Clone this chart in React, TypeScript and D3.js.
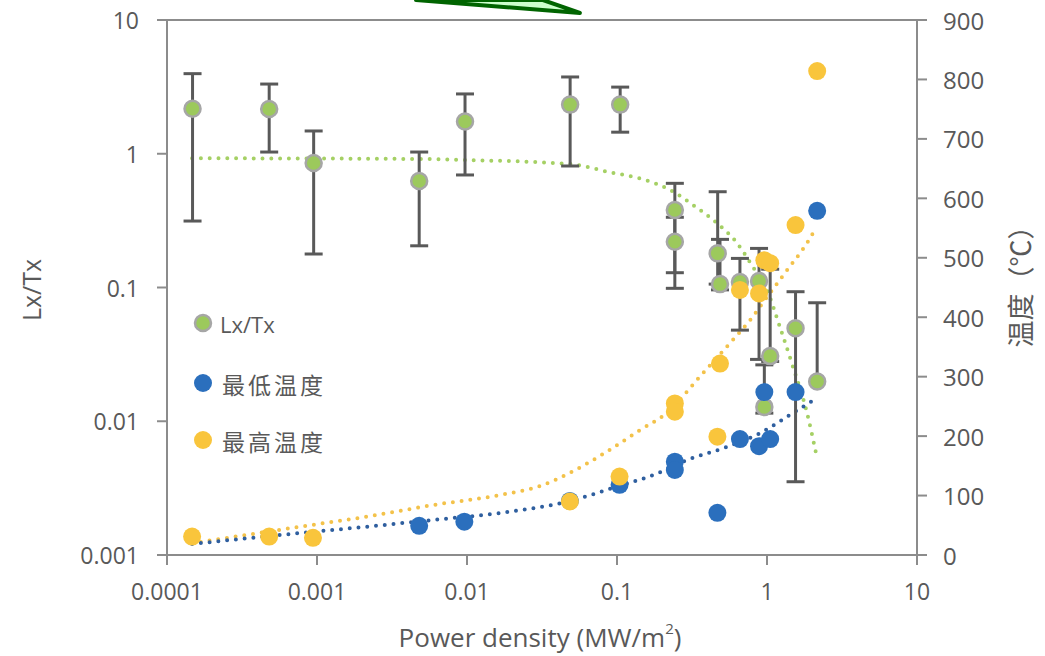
import React from "react";
import * as d3 from "d3";

// Lx/Tx ratio with error bars (left log axis)
const lxX = [0.000148, 0.00048, 0.00095, 0.0048, 0.0097, 0.0487, 0.105, 0.243, 0.243, 0.469, 0.486, 0.66, 0.885, 1.05, 0.96, 1.55, 2.16];
const lxY = [2.17, 2.16, 0.853, 0.625, 1.74, 2.33, 2.33, 0.38, 0.22, 0.18, 0.106, 0.11, 0.112, 0.0307, 0.0128, 0.0496, 0.0198];
const lxHi = [3.97, 3.32, 1.48, 1.03, 2.8, 3.75, 3.15, 0.601, 0.335, 0.52, 0.229, 0.165, 0.196, 0.137, 0.0264, 0.093, 0.0769];
const lxLo: (number | null)[] = [0.314, 1.03, 0.178, 0.205, 0.694, 0.81, 1.45, 0.129, 0.0986, 0.106, 0.096, 0.048, 0.029, 0.028, 0.0115, 0.00353, null];

// minimum temperature (right axis, °C)
const minX = [0.0048, 0.0096, 0.0485, 0.104, 0.243, 0.243, 0.467, 0.66, 0.885, 1.05, 0.96, 1.55, 2.16];
const minT = [49, 56, 91, 118, 157, 143, 71, 195, 183, 195, 274, 274, 579];

// maximum temperature
const maxX = [0.000147, 0.00048, 0.00094, 0.0485, 0.104, 0.243, 0.243, 0.467, 0.486, 0.66, 0.885, 0.96, 1.05, 1.55, 2.16];
const maxT = [31, 31, 29, 90, 132, 255, 241, 199, 322, 446, 440, 496, 491, 555, 814];

// trend lines
const lxTrendX = [0.000147, 0.0048, 0.0097, 0.0485, 0.0898, 0.149, 0.226, 0.321, 0.464, 0.631, 0.807, 1.0, 1.22, 1.49, 1.85, 2.12];
const lxTrendY = [0.925, 0.914, 0.898, 0.838, 0.727, 0.644, 0.536, 0.414, 0.303, 0.215, 0.142, 0.0957, 0.0506, 0.0255, 0.0115, 0.0058];
const maxTrendX = [0.000147, 0.00077, 0.00214, 0.00593, 0.0166, 0.0307, 0.0509, 0.0858, 0.142, 0.215, 0.357, 0.593, 0.77, 1.0, 1.36, 1.85, 2.12];
const maxTrendT = [19.7, 47.6, 64.4, 84, 101, 116, 141, 174, 210, 239, 300, 362, 395, 434, 479, 525, 550];
const minTrendX = [0.000147, 0.00077, 0.00214, 0.00593, 0.0166, 0.0464, 0.1, 0.185, 0.275, 0.541, 0.898, 1.49, 2.15];
const minTrendT = [18.5, 37, 47.6, 59, 70.7, 89.7, 115, 137, 157, 182, 205, 239, 264];

const xTicks = [0.0001, 0.001, 0.01, 0.1, 1, 10];
const xTickLabels = ["0.0001", "0.001", "0.01", "0.1", "1", "10"];
const yTicks = [0.001, 0.01, 0.1, 1, 10];
const yTickLabels = ["0.001", "0.01", "0.1", "1", "10"];
const tTicks = [0, 100, 200, 300, 400, 500, 600, 700, 800, 900];

const legendLabels = ["Lx/Tx", "最低温度", "最高温度"];

// cut-off arrow at the top (data space: power density, Lx/Tx)
const arrowX = [0.00457, 0.0566, 0.0321];
const arrowY = [14.1, 11.3, 14.1];

const W = 1045, H = 656;
const m = { left: 167, right: 917, top: 20, bottom: 555 };

const GREEN = "#9cc95c", GREEN_STROKE = "#a6a6a6";
const BLUE = "#2b6fbd", YELLOW = "#f9c53c";
const AXIS = "#8c8c8c", TEXT = "#595959";
const NUM_FONT = "'Open Sans', 'DejaVu Sans', sans-serif";
const CJK_FONT = "'Noto Sans CJK SC', 'Noto Sans', sans-serif";

export default function App() {
  const x = d3.scaleLog().domain([0.0001, 10]).range([m.left, m.right]);
  const y = d3.scaleLog().domain([0.001, 10]).range([m.bottom, m.top]);
  const t = d3.scaleLinear().domain([0, 900]).range([m.bottom, m.top]);

  const lineLx = d3.line<number>().x((_, i) => x(lxTrendX[i])).y((d) => y(d)).curve(d3.curveMonotoneX);
  const lineMax = d3.line<number>().x((_, i) => x(maxTrendX[i])).y((d) => t(d)).curve(d3.curveMonotoneX);
  const lineMin = d3.line<number>().x((_, i) => x(minTrendX[i])).y((d) => t(d)).curve(d3.curveMonotoneX);

  const arrowPath = d3.line<number>().x((_, i) => x(arrowX[i])).y((d) => y(d))(arrowY) + "Z";

  const r = 9;
  const cap = 9;
  const dotted = { fill: "none", strokeWidth: 4, strokeDasharray: "0 8.8", strokeLinecap: "round" as const };

  return (
    <svg width={W} height={H} style={{ position: "absolute", left: 0, top: 0, background: "#fff" }}>
      <path d={arrowPath} fill="#ccffcc" stroke="#006400" strokeWidth={4} strokeLinejoin="round" />

      {/* axes */}
      <g stroke={AXIS} strokeWidth={2} fill="none">
        <line x1={m.left} x2={m.left} y1={m.top} y2={m.bottom} />
        <line x1={m.right} x2={m.right} y1={m.top} y2={m.bottom} />
        <line x1={m.left - 10} x2={m.right + 10} y1={m.bottom} y2={m.bottom} />
        <line x1={m.left - 10} x2={m.right + 10} y1={m.top} y2={m.top} />
        {yTicks.map((v) => (
          <line key={"yl" + v} x1={m.left - 10} x2={m.left} y1={y(v)} y2={y(v)} />
        ))}
        {tTicks.map((v) => (
          <line key={"tr" + v} x1={m.right} x2={m.right + 10} y1={t(v)} y2={t(v)} />
        ))}
        {xTicks.map((v) => (
          <line key={"xb" + v} x1={x(v)} x2={x(v)} y1={m.bottom} y2={m.bottom + 10} />
        ))}
      </g>

      <g fill={TEXT} fontFamily={NUM_FONT} fontSize={23}>
        {yTicks.map((v, i) => (
          <text key={"ylt" + v} x={m.left - 28} y={y(v)} textAnchor="end" dominantBaseline="central">
            {yTickLabels[i]}
          </text>
        ))}
        {tTicks.map((v) => (
          <text key={"trt" + v} x={m.right + 26} y={t(v)} textAnchor="start" dominantBaseline="central" fontSize={24}>
            {v}
          </text>
        ))}
        {xTicks.map((v, i) => (
          <text key={"xbt" + v} x={x(v)} y={m.bottom + 36} textAnchor="middle" dominantBaseline="central" fontSize={23}>
            {xTickLabels[i]}
          </text>
        ))}
        <text x={540} y={637} textAnchor="middle" dominantBaseline="central" fontSize={26}>
          Power density (MW/m<tspan dy={-9} fontSize={15}>2</tspan><tspan dy={9}>)</tspan>
        </text>
        <text transform="translate(31,290) rotate(-90)" textAnchor="middle" dominantBaseline="central" fontSize={25}>
          Lx/Tx
        </text>
        <text transform="translate(1019,280) rotate(-90)" textAnchor="middle" dominantBaseline="central" fontSize={27} fontFamily={CJK_FONT}>
          温度（℃）
        </text>
      </g>

      {/* trend lines */}
      <path d={lineLx(lxTrendY) || ""} stroke="#a5d064" {...dotted} />
      <path d={lineMax(maxTrendT) || ""} stroke="#f3c24a" {...dotted} />
      <path d={lineMin(minTrendT) || ""} stroke="#2f5f9f" {...dotted} />

      {/* error bars */}
      <g stroke="#595959" strokeWidth={3}>
        {lxX.map((xv, i) => {
          const cx = x(xv);
          const top = y(lxHi[i]);
          const lo = lxLo[i];
          const bot = lo === null ? y(lxY[i]) : y(lo);
          return (
            <g key={"eb" + i}>
              <line x1={cx} x2={cx} y1={top} y2={bot} />
              <line x1={cx - cap} x2={cx + cap} y1={top} y2={top} />
              {lo !== null && <line x1={cx - cap} x2={cx + cap} y1={bot} y2={bot} />}
            </g>
          );
        })}
      </g>

      {/* points */}
      {lxX.map((xv, i) => (
        <circle key={"g" + i} cx={x(xv)} cy={y(lxY[i])} r={r - 1} fill={GREEN} stroke={GREEN_STROKE} strokeWidth={2.5} />
      ))}
      {minX.map((xv, i) => (
        <circle key={"b" + i} cx={x(xv)} cy={t(minT[i])} r={r} fill={BLUE} />
      ))}
      {maxX.map((xv, i) => (
        <circle key={"y" + i} cx={x(xv)} cy={t(maxT[i])} r={r} fill={YELLOW} />
      ))}

      {/* legend */}
      <g>
        <circle cx={203} cy={323} r={r - 1} fill={GREEN} stroke={GREEN_STROKE} strokeWidth={2.5} />
        <text x={220} y={324} fill={TEXT} fontFamily={NUM_FONT} fontSize={22} dominantBaseline="central">
          {legendLabels[0]}
        </text>
        <circle cx={203} cy={383} r={r} fill={BLUE} />
        <text x={222} y={384} fill={TEXT} fontFamily={CJK_FONT} fontSize={23} letterSpacing={3} dominantBaseline="central">
          {legendLabels[1]}
        </text>
        <circle cx={203} cy={440} r={r} fill={YELLOW} />
        <text x={222} y={441} fill={TEXT} fontFamily={CJK_FONT} fontSize={23} letterSpacing={3} dominantBaseline="central">
          {legendLabels[2]}
        </text>
      </g>
    </svg>
  );
}
